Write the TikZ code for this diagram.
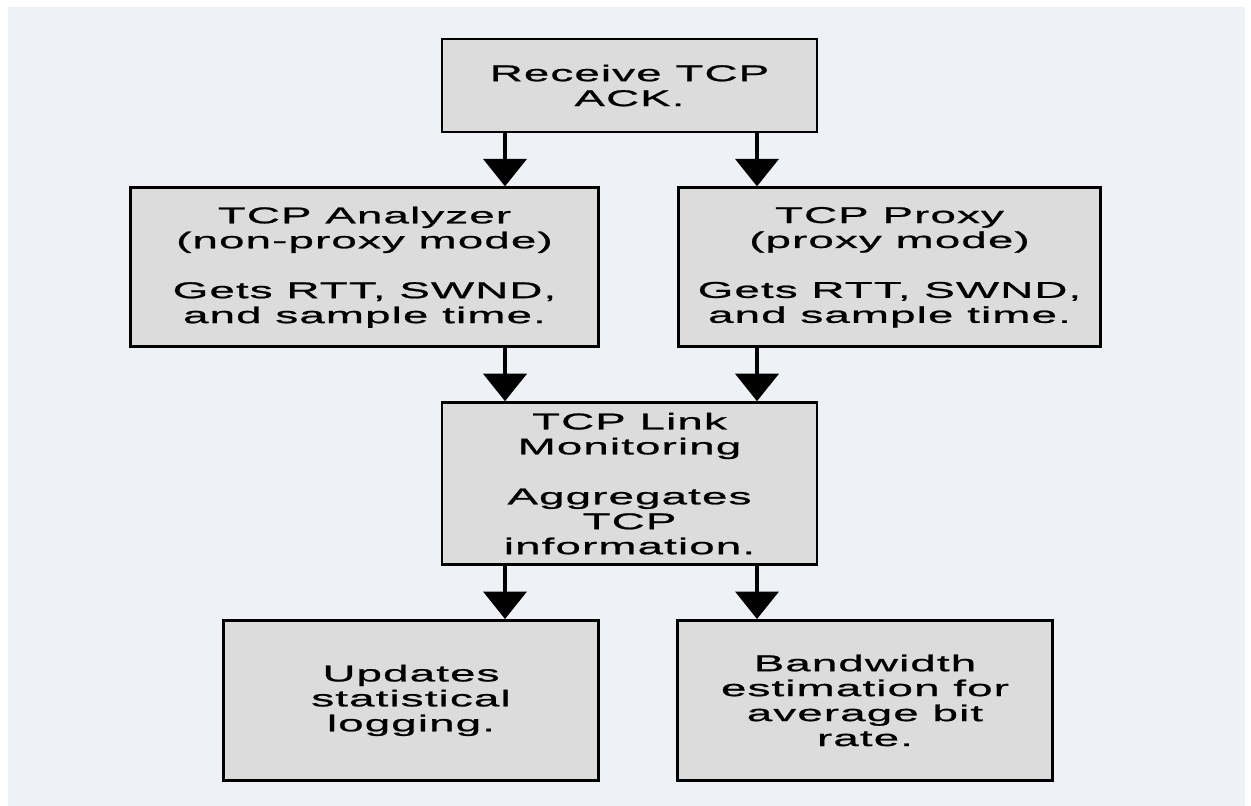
\documentclass[tikz,border=0pt]{standalone}
\usepackage{fontspec}
\setmainfont{Liberation Sans}[FakeStretch=2.0,LetterSpace=5,FakeBold=1]
\usepackage{xcolor}
\definecolor{panelbg}{RGB}{238,241,245}
\definecolor{boxgray}{RGB}{220,220,220}
\usepackage{tikz}
\usetikzlibrary{arrows.meta,positioning}

\begin{document}
\begin{tikzpicture}[node distance=1.06cm]
  \tikzstyle{stage}=[rectangle,draw=black,line width=1.6pt,fill=boxgray,align=center,minimum width=7.5cm,minimum height=3.18cm,inner sep=2pt,font=\fontsize{13}{14.2}\selectfont]
  \tikzstyle{flow}=[line width=2.3pt,-{Triangle[length=0.55cm,width=0.86cm]}]
  % page and panel
  \useasboundingbox (0,0) rectangle (25.02,-16.12);
  \fill[panelbg] (0.16,-0.14) rectangle (24.9,-16.12);
  % boxes
  \node[stage,minimum height=1.86cm] (recv) at (12.59,-1.71) {Receive TCP\\ACK.};
  \node[stage,minimum width=9.36cm,below=of recv,xshift=-5.3cm] (analyzer) {TCP Analyzer\\(non-proxy mode)\\[\baselineskip]Gets RTT, SWND,\\and sample time.};
  \node[stage,minimum width=8.44cm,below=of recv,xshift=5.2cm] (proxy) {TCP Proxy\\(proxy mode)\\[\baselineskip]Gets RTT, SWND,\\and sample time.};
  \node[stage,minimum height=3.24cm,below=of analyzer,xshift=5.3cm] (monitor) {TCP Link\\Monitoring\\[\baselineskip]Aggregates\\TCP\\information.};
  \node[stage,minimum height=3.2cm,below=of monitor,xshift=-4.37cm] (logging) {Updates\\statistical\\logging.};
  \node[stage,minimum height=3.2cm,below=of monitor,xshift=4.71cm] (bwest) {Bandwidth\\estimation for\\average bit\\rate.};
  % arrow columns
  \coordinate (colL) at ([xshift=-2.49cm]recv.south);
  \coordinate (colR) at ([xshift=2.55cm]recv.south);
  \draw[flow] (colL) -- (colL |- analyzer.north);
  \draw[flow] (colR) -- (colR |- proxy.north);
  \draw[flow] (colL |- analyzer.south) -- (colL |- monitor.north);
  \draw[flow] (colR |- proxy.south) -- (colR |- monitor.north);
  \draw[flow] (colL |- monitor.south) -- (colL |- logging.north);
  \draw[flow] (colR |- monitor.south) -- (colR |- bwest.north);
\end{tikzpicture}
\end{document}
